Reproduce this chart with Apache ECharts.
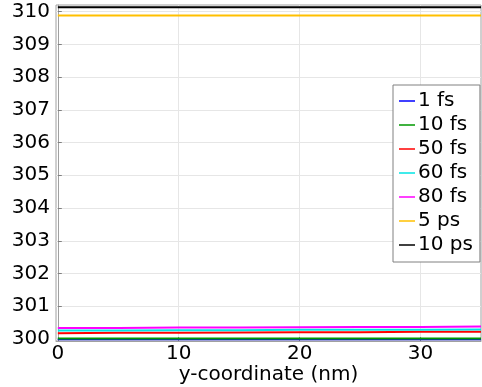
<!DOCTYPE html>
<html><head><meta charset="utf-8">
<script src="https://cdn.jsdelivr.net/npm/echarts@6/dist/echarts.min.js"></script>
<style>html,body{margin:0;padding:0;background:#fff}#c{width:482px;height:387px}</style>
</head><body><div id="c"></div>
<script>
const xs = [0, 5, 10, 15, 20, 25, 30, 35];
const names = ['1 fs', '10 fs', '50 fs', '60 fs', '80 fs', '5 ps', '10 ps'];
const s1fs  = [299.99, 299.99, 299.99, 299.99, 299.99, 299.99, 299.99, 299.99];
const s10fs = [300.02, 300.02, 300.02, 300.02, 300.02, 300.02, 300.02, 300.02];
const s50fs = [300.18, 300.19, 300.19, 300.20, 300.21, 300.21, 300.22, 300.22];
const s60fs = [300.26, 300.26, 300.27, 300.27, 300.28, 300.28, 300.28, 300.29];
const s80fs = [300.34, 300.34, 300.35, 300.35, 300.36, 300.37, 300.37, 300.38];
const s5ps  = [309.88, 309.88, 309.88, 309.88, 309.88, 309.88, 309.88, 309.88];
const s10ps = [310.13, 310.13, 310.13, 310.13, 310.13, 310.13, 310.13, 310.13];
const yTicks = [300, 301, 302, 303, 304, 305, 306, 307, 308, 309, 310];
const xTicks = [0, 10, 20, 30];
const colors = ['#0000ff', '#009900', '#ff0000', '#00e5e5', '#ff00ff', '#ffc000', '#000000'];
const allSeries = [s1fs, s10fs, s50fs, s60fs, s80fs, s5ps, s10ps];

const chart = echarts.init(document.getElementById('c'), null, {renderer: 'canvas'});
const font = 'DejaVu Sans';
chart.setOption({
  animation: false,
  backgroundColor: '#fff',
  grid: {left: 56, top: 5, right: 1, bottom: 46, show: true, borderColor: '#a0a0a0', borderWidth: 1,
         containLabel: false, outerBoundsMode: 'none'},
  xAxis: {
    type: 'value', min: -0.15, max: 35,
    name: 'y-coordinate (nm)', nameLocation: 'middle', nameGap: 24, nameMoveOverlap: false,
    nameTextStyle: {fontFamily: font, fontSize: 20, color: '#000'},
    axisLine: {show: true, lineStyle: {color: '#a0a0a0'}},
    axisTick: {show: true, inside: true, length: 4, lineStyle: {color: '#808080'}, customValues: xTicks},
    axisLabel: {fontFamily: font, fontSize: 20, color: '#000', margin: 3, customValues: xTicks},
    splitLine: {show: true, lineStyle: {color: '#e6e6e6'}}
  },
  yAxis: {
    type: 'value', min: 299.94, max: 310.2,
    axisLine: {show: true, lineStyle: {color: '#a0a0a0'}},
    axisTick: {show: true, inside: true, length: 4, lineStyle: {color: '#808080'}, customValues: yTicks},
    axisLabel: {fontFamily: font, fontSize: 20, color: '#000', margin: 6, customValues: yTicks},
    splitLine: {show: true, lineStyle: {color: '#e6e6e6'}}
  },
  legend: {
    orient: 'vertical', left: 393, top: 85,
    data: names,
    icon: 'rect', itemWidth: 16, itemHeight: 1.5, itemGap: 4,
    padding: [6, 7, 7, 6],
    backgroundColor: '#fff', borderColor: '#808080', borderWidth: 1,
    textStyle: {fontFamily: font, fontSize: 20, color: '#000', padding: [0, 0, 0, -2]}
  },
  series: names.map((n, i) => ({
    name: n, type: 'line', showSymbol: false, symbol: 'none',
    data: xs.map((x, j) => [x, allSeries[i][j]]),
    lineStyle: {color: colors[i], width: 2},
    itemStyle: {color: colors[i]},
    clip: true
  }))
});
</script></body></html>
